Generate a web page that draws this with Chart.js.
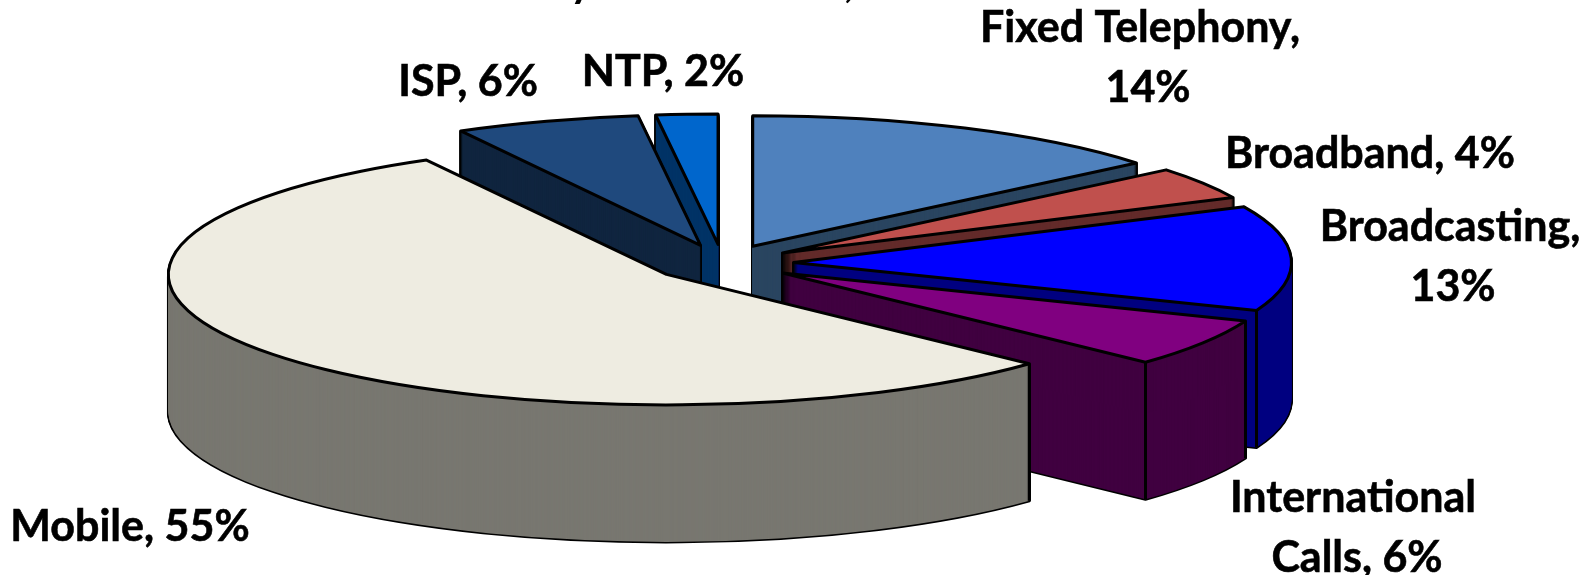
<!DOCTYPE html>
<html><head><meta charset="utf-8">
<style>html,body{margin:0;padding:0;background:#fff}canvas{display:block}</style>
<script src="https://cdn.jsdelivr.net/npm/chart.js@4"></script>
</head><body>
<canvas id="c" width="1593" height="575"></canvas>
<script>
const categories = ['Fixed Telephony','Broadband','Broadcasting','International Calls','Mobile','ISP','NTP'];
const shares = [14,4,13,6,55,6,2];
const topColors = ['#4F81BD','#C0504D','#0000FF','#800080','#EEECE1','#1F497D','#0066CC'];
const wallColors = ['#2A4560','#632B2A','#000080','#400040','#787770','#10253F','#003366'];
const labelLines = [
  ['Fixed Telephony,','14%'],['Broadband, 4%'],['Broadcasting,','13%'],
  ['International','Calls, 6%'],['Mobile, 55%'],['ISP, 6%'],['NTP, 2%']];
const labelCentres = [[1140,28],[1370,154],[1450,227],[1353,498],[130,527],[468,82],[663,72]];
const secondLineShift = [8,0,3,4,0,0,0];
const lineGap = 60;
const titleFragments = [['y',581,-17],[',',849,-17]];
const SQUASH = 0.262, DEPTH = 137, EXPLODE = 71, RADIUS = 498, LINE = 3;

const pie3d = {
  id:'pie3d',
  beforeDatasetsDraw(chart){
    const ctx = chart.ctx;
    const arcs = chart.getDatasetMeta(0).data.map((a,i)=>({a,i}));
    const base = ctx.getTransform();
    const nativeStroke = ctx.stroke;
    const optsFor = (fill,stroke,w)=>({backgroundColor:fill,borderColor:stroke,borderWidth:w,borderAlign:'center',
      borderJoinStyle:'round',borderDash:[],borderDashOffset:0,borderRadius:0,offset:0,spacing:0,circular:true,selfJoin:false});
    const mid = it=>(it.a.startAngle+it.a.endAngle)/2;
    ctx.stroke = function(){ ctx.save(); ctx.setTransform(base); nativeStroke.call(ctx); ctx.restore(); };
    const drawAt = (item,d,o)=>{
      const keep = item.a.options, cy = item.a.y, m = mid(item);
      item.a.options = o;
      ctx.save();
      ctx.translate(0,cy+d); ctx.scale(1,SQUASH); ctx.translate(0,-cy);
      ctx.translate(Math.cos(m)*EXPLODE,Math.sin(m)*EXPLODE);
      item.a.draw(ctx);
      ctx.restore();
      item.a.options = keep;
    };
    arcs.sort((p,q)=>Math.sin(mid(p))-Math.sin(mid(q)));
    for(const it of arcs){
      for(let d=DEPTH;d>=1;d--) drawAt(it,d,optsFor('#000','#000',LINE));
      for(let d=DEPTH;d>=1;d--) drawAt(it,d,optsFor(wallColors[it.i],wallColors[it.i],0));
      const m = mid(it), R = it.a.outerRadius;
      ctx.save(); ctx.setTransform(base); ctx.strokeStyle='#000'; ctx.lineWidth=LINE;
      for(const ang of [it.a.startAngle,it.a.endAngle]){
        if(Math.sin(ang)>0){
          const px = it.a.x+Math.cos(m)*EXPLODE+R*Math.cos(ang);
          const py = it.a.y+SQUASH*(Math.sin(m)*EXPLODE+R*Math.sin(ang));
          ctx.beginPath(); ctx.moveTo(px,py); ctx.lineTo(px,py+DEPTH); nativeStroke.call(ctx);
        }
      }
      ctx.restore();
      drawAt(it,0,optsFor(topColors[it.i],'#000',LINE));
    }
    delete ctx.stroke;
    return false;
  },
  afterDraw(chart){
    const ctx = chart.ctx;
    ctx.save();
    ctx.fillStyle='#000'; ctx.strokeStyle='#000'; ctx.lineWidth=0.6; ctx.font='bold 43px Lato'; ctx.textAlign='center'; ctx.textBaseline='middle';
    labelLines.forEach((lines,i)=>{
      lines.forEach((t,j)=>{
        const x=labelCentres[i][0]+(j?secondLineShift[i]:0), y=labelCentres[i][1]+j*lineGap;
        ctx.fillText(t,x,y); ctx.strokeText(t,x,y);
      });
    });
    titleFragments.forEach(f=>ctx.fillText(f[0],f[1],f[2]));
    ctx.restore();
  }
};

new Chart(document.getElementById('c'),{
  type:'pie',
  data:{labels:categories,datasets:[{data:shares,backgroundColor:topColors,borderColor:'#000',borderWidth:LINE,clip:false,radius:RADIUS}]},
  options:{responsive:false,devicePixelRatio:1,animation:false,events:[],radius:RADIUS,
    layout:{padding:{left:0,top:0,right:148,bottom:49}},
    plugins:{legend:{display:false},tooltip:{enabled:false},title:{display:false}}},
  plugins:[pie3d]
});
</script>
</body></html>
